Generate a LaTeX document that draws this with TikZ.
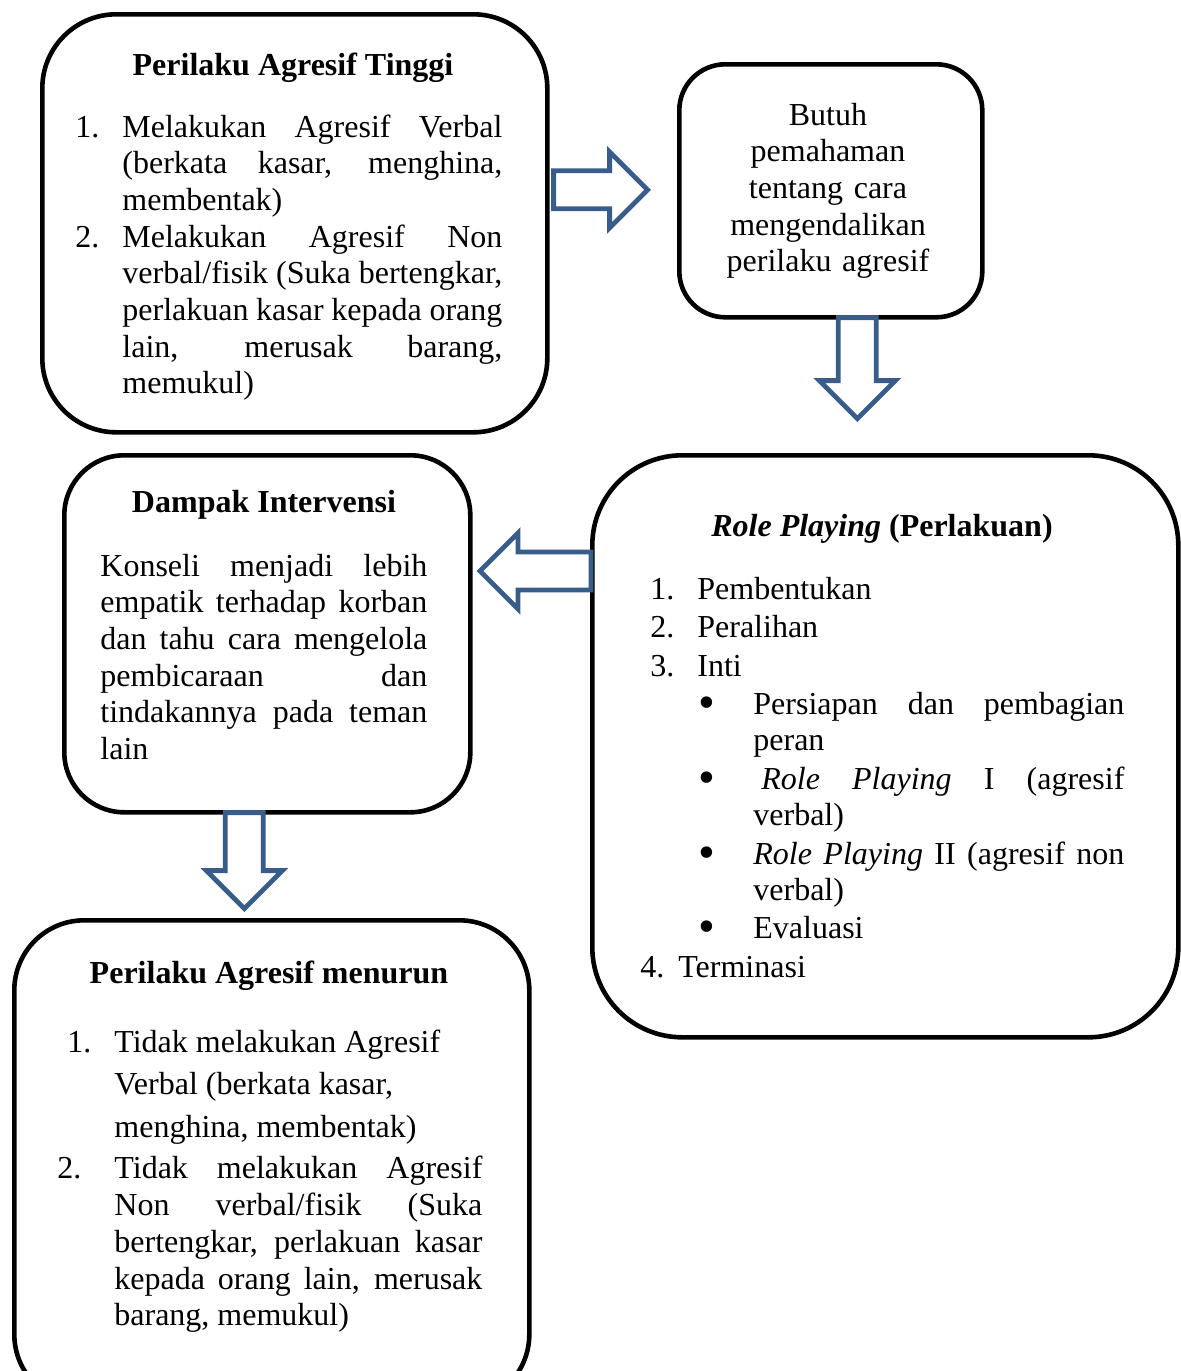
\documentclass[tikz,border=0pt]{standalone}
\usepackage{fontspec}
\setmainfont{Liberation Serif}
\usetikzlibrary{calc}
\definecolor{panah}{HTML}{385D8A}
\hyphenpenalty=10000
\exhyphenpenalty=10000
\tolerance=10000
\newcommand{\ukuran}{\fontsize{16}{18.35}\selectfont}
\newcommand{\titik}{\raisebox{-2pt}{\fontsize{24}{0}\selectfont\textbullet}}
% list item: label at #1, text (and following lines) at #2
\newcommand{\lstitem}[3]{\hangindent=#2\hangafter=1\noindent\hspace*{#1}\makebox[\dimexpr#2-#1\relax][l]{#3}}
\tikzset{
  kotak/.style={draw, line width=2.3pt, rounded corners=#1, inner sep=0pt, anchor=north west},
  judul/.style={font=\ukuran\bfseries, anchor=base, inner sep=0pt},
  isi/.style={text width=#1, align=justify, anchor=base west, inner sep=0pt},
  blockarrow/.pic={
    \draw[panah, line width=2.4pt, miter limit=10, fill=white]
      (0,-19) -- (#1-38,-19) -- (#1-38,-38) -- (#1,0) -- (#1-38,38) -- (#1-38,19) -- (0,19) -- cycle;
  }
}
\begin{document}
\begin{tikzpicture}[x=0.5pt, y=-0.5pt, font=\ukuran]
    \clip (0,0) rectangle (1181,1371);

    %% boxes
    \node[kotak=37pt, minimum width=252.5pt, minimum height=209pt] (tinggi) at (40,12) {};
    \node[kotak=23pt, minimum width=151.5pt, minimum height=126.5pt] (butuh) at (677,62) {};
    \node[kotak=30pt, minimum width=203pt, minimum height=178.5pt] (dampak) at (62,453) {};
    \node[kotak=45pt, minimum width=293pt, minimum height=291pt] (role) at (590,453) {};
    \node[kotak=35pt, minimum width=257.5pt, minimum height=242pt] (menurun) at (12,918) {};

    %% Perilaku Agresif Tinggi
    \node[judul] (tinggiJudul) at (293,75) {Perilaku Agresif Tinggi};
    \node[isi=213.5pt] (tinggiIsi) at (75,137) {%
      \lstitem{0pt}{23.5pt}{1.}Melakukan Agresif Verbal\linebreak
      (berkata kasar, menghina,\linebreak membentak)\par
      \lstitem{0pt}{23.5pt}{2.}Melakukan Agresif Non\linebreak
      verbal/fisik (Suka bertengkar,\linebreak
      perlakuan kasar kepada orang\linebreak
      lain, merusak barang,\linebreak memukul)\par};

    %% Butuh pemahaman
    \node[text width=150pt, align=center, anchor=base, inner sep=0pt] (butuhIsi) at (828,125)
      {Butuh\\ pemahaman\\ tentang cara\\ mengendalikan\\ perilaku agresif};

    %% Dampak Intervensi
    \node[judul] (dampakJudul) at (264,512) {Dampak Intervensi};
    \node[isi=163.5pt] (dampakIsi) at (100,576) {%
      Konseli menjadi lebih\linebreak
      empatik terhadap korban\linebreak
      dan tahu cara mengelola\linebreak
      pembicaraan dan\linebreak
      tindakannya pada teman\linebreak lain\par};

    %% Role Playing
    \node[judul] (roleJudul) at (882,536) {\textit{Role Playing} (Perlakuan)};
    \node[isi=242pt] (roleIsi) at (640,599) {%
      \baselineskip=18pt \parskip=1.3pt
      \lstitem{5pt}{28.5pt}{1.}Pembentukan\par
      \lstitem{5pt}{28.5pt}{2.}Peralihan\par
      \lstitem{5pt}{28.5pt}{3.}Inti\par
      \lstitem{29pt}{56.5pt}{\titik}Persiapan dan pembagian\linebreak peran\par
      \lstitem{29pt}{56.5pt}{\titik}\hspace*{4pt}\textit{Role Playing} I (agresif\linebreak verbal)\par
      \lstitem{29pt}{56.5pt}{\titik}\textit{Role Playing} II (agresif non\linebreak verbal)\par
      \lstitem{29pt}{56.5pt}{\titik}Evaluasi\par
      \lstitem{0pt}{19pt}{4.}Terminasi\par};

    %% Perilaku Agresif menurun
    \node[judul] (menurunJudul) at (269,983) {Perilaku Agresif menurun};
    \node[isi=212.5pt] (menurunIsi) at (57,1052) {%
      \baselineskip=21.25pt
      \lstitem{5pt}{28.5pt}{1.}Tidak melakukan Agresif\newline
      Verbal (berkata kasar,\newline menghina, membentak)\par
      \vspace{2.6pt}\baselineskip=18.35pt
      \lstitem{0pt}{28.5pt}{2.}Tidak melakukan Agresif\linebreak
      Non verbal/fisik (Suka\linebreak
      bertengkar, perlakuan kasar\linebreak
      kepada orang lain, merusak\linebreak
      barang, memukul)\par};

    %% block arrows
    \pic at ($(tinggi.east |- butuh.west)+(4,-1)$) {blockarrow=94};
    \pic[rotate=-90] at ($(butuh.south)+(26.5,-2)$) {blockarrow=101};
    \pic[rotate=180] at ($(role.west |- 0,571)+(1,0)$) {blockarrow=111};
    \pic[rotate=-90] at ($(dampak.south)+(-23,-2)$) {blockarrow=96};

\end{tikzpicture}
\end{document}
